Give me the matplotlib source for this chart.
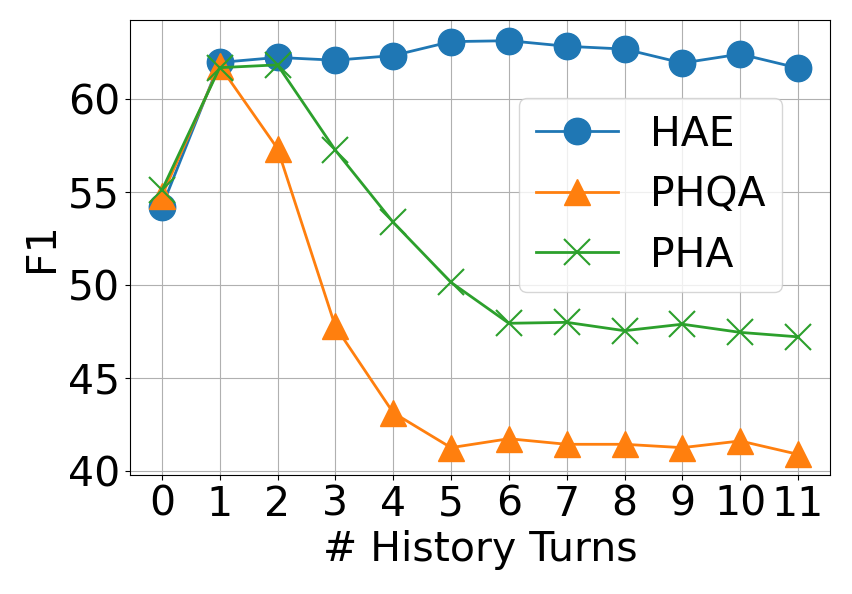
import numpy as np
import matplotlib
matplotlib.use("Agg")
import matplotlib.pyplot as plt

# history turns on x axis
turns = list(range(12))

# F1 scores
hae = [54.2, 61.98, 62.25, 62.1, 62.35, 63.1, 63.15, 62.85, 62.7, 61.95, 62.43, 61.68]
phqa = [54.8, 61.8, 57.35, 47.78, 43.14, 41.26, 41.74, 41.44, 41.44, 41.26, 41.62, 40.9]
pha = [55.1, 61.7, 61.85, 57.26, 53.38, 50.15, 47.95, 48.0, 47.55, 47.9, 47.46, 47.22]

fig = plt.figure(figsize=(8.52, 5.94), dpi=100)
ax = fig.add_axes([0.1526, 0.2003, 0.8214, 0.7660])

ax.plot(turns, hae, marker='o', markersize=19, linewidth=2, label='HAE')
ax.plot(turns, phqa, marker='^', markersize=19, linewidth=2, label='PHQA')
ax.plot(turns, pha, marker='x', markersize=19, markeredgewidth=1.5, linewidth=2, label='PHA')

ax.set_xticks(turns)
ax.set_yticks([40, 45, 50, 55, 60])
ax.tick_params(labelsize=29.5)
ax.set_xlabel('# History Turns', fontsize=29.5)
ax.set_ylabel('F1', fontsize=29.5)
ax.grid(True)

ax.legend(fontsize=29.5, loc='upper right', bbox_to_anchor=(0.932, 0.828),
          borderaxespad=0)

fig.savefig('out.png', dpi=100)
